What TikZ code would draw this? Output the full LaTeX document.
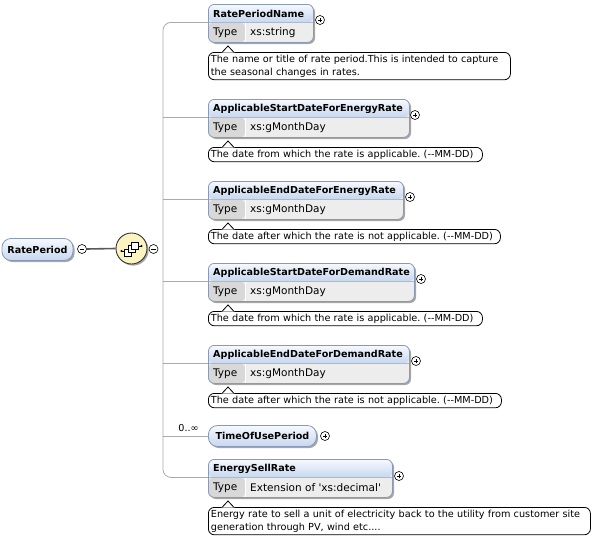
\documentclass[tikz,border=0pt]{standalone}
\usepackage{fontspec}
\setmainfont{DejaVu Sans}[Ligatures=TeXOff]
\usetikzlibrary{shadows}
\frenchspacing

\definecolor{hdrtop}{HTML}{F6F9FE}
\definecolor{hdrbot}{HTML}{C6D7F0}
\definecolor{boxline}{HTML}{8A9AB6}
\definecolor{typegray}{HTML}{D8D8D8}
\definecolor{typeval}{HTML}{EDEDED}
\definecolor{spine}{HTML}{AAAAAA}
\definecolor{compfill}{HTML}{FBF3C0}

\tikzset{
  x=1pt, y=-1pt,
  shadowed/.style={drop shadow={shadow xshift=1.6pt, shadow yshift=-1.6pt, opacity=0.35, fill=black}},
  elembox/.style={draw=boxline, line width=0.8pt, rounded corners=6pt, anchor=north west,
    minimum height=38pt, inner sep=0pt, shadowed,
    path picture={
      \fill[typeval] (path picture bounding box.north west) rectangle (path picture bounding box.south east);
      \shade[top color=hdrtop, bottom color=hdrbot] (path picture bounding box.north west)
        rectangle ([yshift=-18pt]path picture bounding box.north east);
      \fill[typegray] ([yshift=-18pt]path picture bounding box.north west)
        rectangle ([xshift=37pt]path picture bounding box.south west);
      \draw[white, line width=0.8pt] ([xshift=37pt,yshift=-18pt]path picture bounding box.north west)
        -- ([xshift=37pt]path picture bounding box.south west);
      \draw[boxline!70, line width=0.6pt] ([yshift=-18pt]path picture bounding box.north west)
        -- ([yshift=-18pt]path picture bounding box.north east);
    }},
  pill/.style={draw=boxline, line width=0.8pt, rounded corners=9pt, inner sep=0pt,
    top color=hdrtop, bottom color=hdrbot, shadowed, font=\fontsize{9.6}{12}\selectfont\bfseries},
  title/.style={anchor=west, inner sep=0pt, font=\fontsize{9.6}{12}\selectfont\bfseries},
  typelbl/.style={anchor=west, inner sep=0pt, font=\fontsize{10.5}{12}\selectfont},
  anno/.style={draw=black, line width=0.8pt, rounded corners=6pt, fill=white, anchor=north west,
    inner xsep=2.5pt, inner ysep=2.5pt, align=left, font=\fontsize{9.7}{13}\selectfont},
  notch/.style={fill=white, draw=none},
  notchline/.style={draw=black, line width=0.8pt},
  spine/.style={draw=spine, line width=0.8pt},
  pmbase/.style={circle, draw=black, line width=0.6pt, fill=white, inner sep=0pt, minimum size=9pt},
  pmplus/.style={pmbase, path picture={
      \draw[line width=0.7pt] ([xshift=-2.4pt]path picture bounding box.center) -- ([xshift=2.4pt]path picture bounding box.center);
      \draw[line width=0.7pt] ([yshift=-2.4pt]path picture bounding box.center) -- ([yshift=2.4pt]path picture bounding box.center);}},
  pmminus/.style={pmbase, path picture={
      \draw[line width=0.7pt] ([xshift=-2.4pt]path picture bounding box.center) -- ([xshift=2.4pt]path picture bounding box.center);}},
}

% element with a header and a type row: name, top, width, title, type
\newcommand\elemnode[5]{%
  \node[elembox, minimum width=#3pt] (#1) at (208,#2) {};
  \node[title] (#1-t) at (213,#2+9.5) {#4};
  \node[typelbl] (#1-k) at (213,#2+28.5) {Type};
  \node[typelbl] (#1-v) at (250,#2+28.5) {#5};
}
% annotation balloon with its pointer: name, top, text width, text
\newcommand\annonode[4]{%
  \node[anno, text width=#3pt] (#1) at (208,#2) {#4};
  \fill[notch] ([xshift=13.5pt,yshift=-0.6pt]#1.north west) -- ([xshift=20pt,yshift=6pt]#1.north west)
     -- ([xshift=26.5pt,yshift=-0.6pt]#1.north west) -- cycle;
  \draw[notchline] ([xshift=14pt,yshift=-0.4pt]#1.north west) -- ([xshift=20pt,yshift=6pt]#1.north west)
     -- ([xshift=26pt,yshift=-0.4pt]#1.north west);
}

\begin{document}
\begin{tikzpicture}
\useasboundingbox (0,0) rectangle (613,546);

% root element and its sequence compositor
\node[pill, minimum width=71pt, minimum height=22pt] (root) at (37.5,249.5) {RatePeriod};
\node[pmminus] (rootm) at (82,249) {};
\node[circle, draw=black!80, line width=0.9pt, fill=compfill, minimum size=31pt, inner sep=0pt, shadowed] (seq) at (131.5,248.5) {};
\node[pmminus] (seqm) at (153.5,249) {};
\draw[draw=black!65, line width=1.6pt] (rootm.east) -- (seq.west);

% sequence symbol inside the compositor
\begin{scope}[shift={(seq.center)}]
  \draw[line width=1pt] (-10,2.5) -- (-6,2.5);
  \draw[line width=1pt] (6,-2.5) -- (10,-2.5);
  \fill (-10,2.5) circle (1.2pt);
  \fill (10,-2.5) circle (1.2pt);
  \foreach \d in {0,1,2}
    \draw[fill=white, line width=0.9pt] (-7+3.5*\d,7.5-3.5*\d) rectangle (0+3.5*\d,0.5-3.5*\d);
\end{scope}

% child elements
\elemnode{e1}{4}{105}{RatePeriodName}{xs:string}
\elemnode{e2}{99}{201}{ApplicableStartDateForEnergyRate}{xs:gMonthDay}
\elemnode{e3}{181}{195}{ApplicableEndDateForEnergyRate}{xs:gMonthDay}
\elemnode{e4}{263}{206}{ApplicableStartDateForDemandRate}{xs:gMonthDay}
\elemnode{e5}{345}{201}{ApplicableEndDateForDemandRate}{xs:gMonthDay}
\node[pill, minimum width=108pt, minimum height=21pt, anchor=west] (e6) at (208,436) {TimeOfUsePeriod};
\elemnode{e7}{459}{184}{EnergySellRate}{Extension of 'xs:decimal'}

% expand markers
\node[pmplus] (e1p) at (320,20) {};
\node[pmplus] (e2p) at (415,115) {};
\node[pmplus] (e3p) at (410,197) {};
\node[pmplus] (e4p) at (421,279) {};
\node[pmplus] (e5p) at (416,361) {};
\node[pmplus] (e6p) at (325,436) {};
\node[pmplus] (e7p) at (399,476) {};

% occurrence of TimeOfUsePeriod
\node[inner sep=0pt, font=\fontsize{9.6}{12}\selectfont] (occ) at (188.5,428) {0..∞};

% documentation balloons
\annonode{a1}{52}{297}{The name or title of rate period.This is intended to capture\\the seasonal changes in rates.}
\annonode{a2}{147}{269}{The date from which the rate is applicable. (--MM-DD)}
\annonode{a3}{229}{287}{The date after which the rate is not applicable. (--MM-DD)}
\annonode{a4}{311}{269}{The date from which the rate is applicable. (--MM-DD)}
\annonode{a5}{393}{288}{The date after which the rate is not applicable. (--MM-DD)}
\annonode{a7}{507}{377}{Energy rate to sell a unit of electricity back to the utility from customer site\\generation through PV, wind etc....}

% connectors from the compositor to the children
\coordinate (spx) at (163,249);
\draw[spine, rounded corners=8pt] ([yshift=1pt]e1.west) -| (spx) |- ([yshift=1pt]e7.west);
\foreach \e in {e2,e3,e4,e5}
  \draw[spine] ([yshift=1pt]\e.west -| spx) -- ([yshift=1pt]\e.west);
\draw[spine] (e6.west -| spx) -- (e6.west);
\end{tikzpicture}
\end{document}
